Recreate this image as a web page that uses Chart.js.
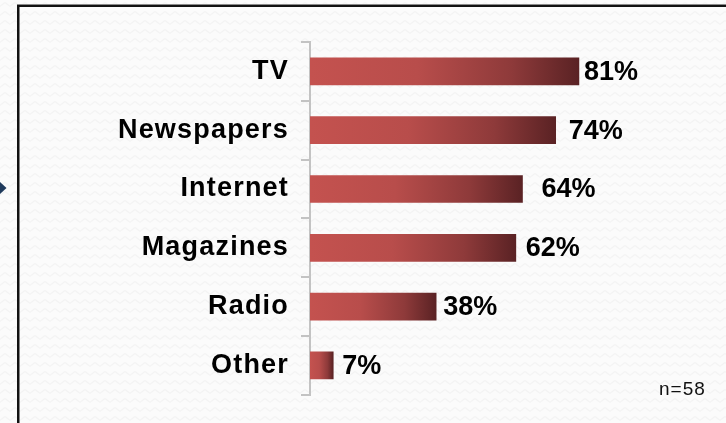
<!DOCTYPE html>
<html>
<head>
<meta charset="utf-8">
<script src="https://cdn.jsdelivr.net/npm/chart.js@4/dist/chart.umd.min.js"></script>
<style>
  html, body { margin: 0; padding: 0; background: #fafafa; }
  canvas { display: block; }
</style>
</head>
<body>
<canvas id="chart" width="726" height="423"></canvas>
<script>
// Media sources used, share of respondents (%)
const categories = ['TV', 'Newspapers', 'Internet', 'Magazines', 'Radio', 'Other'];
const shares = [81, 74, 64, 62, 38, 7];
const valueSuffix = '%';
const sampleNote = 'n=58';

const FONT = '"Liberation Sans", Arial, sans-serif';

// Soft zigzag paper texture for the page background
function makeTexture() {
  const t = document.createElement('canvas');
  t.width = 10; t.height = 9;
  const c = t.getContext('2d');
  c.fillStyle = '#fbfbfb';
  c.fillRect(0, 0, 10, 9);
  c.strokeStyle = '#f3f3f3';
  c.lineWidth = 1.2;
  c.beginPath();
  c.moveTo(-0.5, 6.5); c.lineTo(5, 2.5); c.lineTo(10.5, 6.5);
  c.stroke();
  return t;
}

const backdrop = {
  id: 'backdrop',
  beforeDraw(chart) {
    const ctx = chart.ctx;
    ctx.save();
    ctx.fillStyle = ctx.createPattern(makeTexture(), 'repeat');
    ctx.fillRect(0, 0, chart.width, chart.height);
    ctx.restore();
    // slightly widened tracking for the category labels
    ctx.letterSpacing = '1.2px';
  },
  afterDraw(chart) {
    const ctx = chart.ctx;
    ctx.save();
    ctx.letterSpacing = '0px';
    // frame (top and left edges)
    ctx.fillStyle = '#8a8a8a';
    ctx.fillRect(17, 4, chart.width - 17, 1);
    ctx.fillStyle = '#111111';
    ctx.fillRect(17, 5, chart.width - 17, 2);
    ctx.fillRect(17, 5, 2.5, chart.height - 5);
    // navigation marker at the left edge
    ctx.fillStyle = '#1f3a5c';
    ctx.beginPath();
    ctx.moveTo(-1, 181); ctx.lineTo(6.5, 188); ctx.lineTo(-1, 195);
    ctx.closePath();
    ctx.fill();
    // sample size note
    ctx.letterSpacing = '1px';
    ctx.fillStyle = '#111111';
    ctx.font = '19px ' + FONT;
    ctx.textAlign = 'left';
    ctx.textBaseline = 'alphabetic';
    ctx.fillText(sampleNote, 659, 395);
    ctx.restore();
  }
};

// Percent labels at the end of each bar
const valueLabels = {
  id: 'valueLabels',
  afterDatasetsDraw(chart, args, opts) {
    const ctx = chart.ctx;
    const meta = chart.getDatasetMeta(0);
    const gaps = opts.gaps || [];
    ctx.save();
    ctx.letterSpacing = '0px';
    ctx.fillStyle = '#000000';
    ctx.font = 'bold 27px ' + FONT;
    ctx.textAlign = 'left';
    ctx.textBaseline = 'middle';
    meta.data.forEach((bar, i) => {
      const gap = gaps[i] !== undefined ? gaps[i] : 6;
      ctx.fillText(shares[i] + valueSuffix, bar.x + gap, bar.y + 1);
    });
    ctx.restore();
  }
};

function barGradient(context) {
  const chart = context.chart;
  const area = chart.chartArea;
  if (!area || context.raw === undefined) return '#c0504d';
  const x = chart.scales.x;
  const x0 = x.getPixelForValue(0);
  const x1 = x.getPixelForValue(context.raw);
  const g = chart.ctx.createLinearGradient(x0, 0, x1, 0);
  g.addColorStop(0, '#c4524f');
  g.addColorStop(0.4, '#b84d4b');
  g.addColorStop(0.75, '#8e3a3a');
  g.addColorStop(1, '#5a2224');
  return g;
}

new Chart(document.getElementById('chart'), {
  type: 'bar',
  data: {
    labels: categories,
    datasets: [{
      data: shares,
      backgroundColor: barGradient,
      borderWidth: 0,
      barThickness: 27
    }]
  },
  options: {
    indexAxis: 'y',
    responsive: false,
    animation: false,
    layout: { padding: { left: 0, right: 84, top: 42, bottom: 27 } },
    plugins: {
      legend: { display: false },
      tooltip: { enabled: false },
      valueLabels: { gaps: [5, 13, 19, 10, 7, 9] }
    },
    scales: {
      x: {
        display: false,
        min: 0,
        max: 100
      },
      y: {
        afterFit(scale) { scale.width = 310; },
        border: { display: true, color: '#c3c3c3', width: 2 },
        grid: {
          offset: true,
          drawOnChartArea: false,
          drawTicks: true,
          tickLength: 9,
          color: '#c3c3c3',
          lineWidth: 2
        },
        ticks: {
          padding: 12,
          color: '#000000',
          font: { family: FONT, size: 27, weight: 'bold' }
        }
      }
    }
  },
  plugins: [backdrop, valueLabels]
});
</script>
</body>
</html>
